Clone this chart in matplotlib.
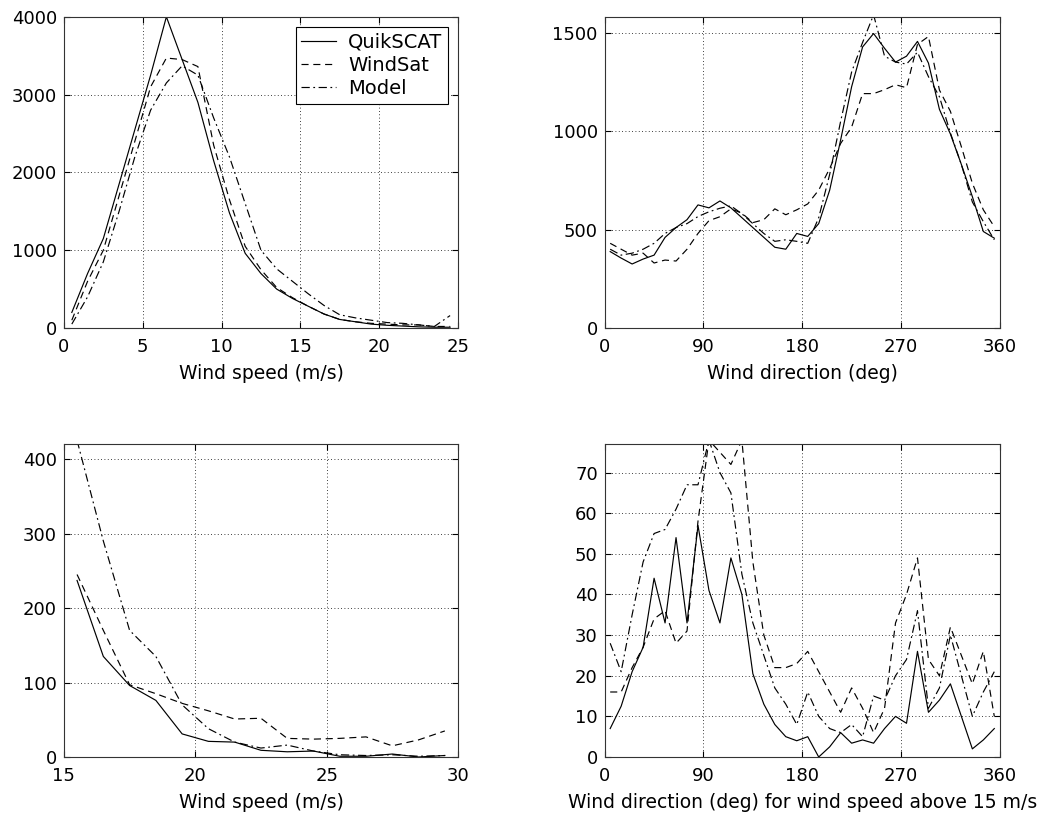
import numpy as np
import matplotlib
matplotlib.use('Agg')
import matplotlib.pyplot as plt

# wind speed histogram (bin centres 0.5 .. 24.5 m/s)
speed = np.arange(0.5, 25, 1.0)
speed_qscat = [200, 700, 1150, 1850, 2550, 3250, 4000, 3450, 2900, 2150, 1480, 960,
               700, 500, 380, 280, 180, 110, 80, 50, 35, 25, 15, 10, 10]
speed_wsat = [100, 600, 1000, 1700, 2400, 3100, 3470, 3450, 3360, 2350, 1650, 1050,
              750, 520, 390, 280, 180, 110, 80, 60, 50, 40, 40, 20, 20]
speed_model = [50, 400, 850, 1500, 2200, 2800, 3150, 3370, 3250, 2700, 2200, 1600,
               1000, 760, 600, 440, 290, 170, 130, 100, 70, 60, 40, 20, 160]

# wind direction histogram (bin centres 5 .. 355 deg)
direc = np.arange(5, 360, 10)
dir_qscat = [388, 355, 325, 350, 370, 460, 510, 550, 625, 610, 645, 610, 560, 510, 460, 410,
             400, 480, 465, 530, 700, 955, 1225, 1427, 1495, 1420, 1350, 1380, 1455, 1345,
             1110, 985, 830, 667, 490, 456]
dir_wsat = [430, 400, 370, 380, 330, 345, 340, 400, 480, 545, 565, 605, 583, 535, 550, 605,
            575, 600, 630, 700, 810, 937, 1020, 1190, 1190, 1210, 1235, 1220, 1440, 1480,
            1208, 1100, 920, 735, 600, 514]
dir_model = [400, 370, 380, 400, 430, 480, 510, 530, 566, 590, 608, 620, 580, 530, 480, 440,
             448, 440, 430, 560, 780, 1050, 1300, 1450, 1590, 1380, 1350, 1340, 1400, 1276,
             1174, 990, 830, 640, 540, 448]

# high wind speed tail (15.5 .. 29.5 m/s)
hi_speed = np.arange(15.5, 30, 1.0)
hi_qscat = [237, 135, 96, 76, 31, 21, 20, 9, 7, 8, 1, 1, 4, 0, 2]
hi_wsat = [245, 170, 97, 85, 72, 62, 51, 52, 25, 24, 25, 27, 15, 23, 35]
hi_model = [425, 290, 170, 135, 70, 38, 20, 12, 16, 8, 3, 2, 3, 1, 2]

# direction for wind speed above 15 m/s
hi_qscat_dir = [7, 12.5, 21, 27, 44, 33, 54, 33, 57, 41, 33, 49, 40, 20.5, 13, 8, 5, 4,
                5, 0, 2.5, 6, 3.4, 4.2, 3.4, 7, 10, 8.3, 26, 11, 14, 18, 10, 2, 4.2, 7]
hi_wsat_dir = [16, 16, 22, 27, 34, 36, 28, 31, 58, 78, 75, 72, 78, 48, 30, 22, 22, 23,
               26, 21, 16, 11, 17, 12, 6, 12, 33, 40, 49, 24, 20, 32, 25, 18, 26, 10]
hi_model_dir = [28, 21, 35, 48, 55, 56, 61, 67, 67, 78, 70, 65, 45, 33, 25, 17, 13, 8,
                16, 10, 7, 6, 8, 5, 15, 14, 20, 24, 36, 12, 17, 30, 20, 10, 16, 21]

plt.rcParams['font.family'] = ['DejaVu Sans']
plt.rcParams['font.size'] = 13

fig = plt.figure(figsize=(10.48, 8.19), dpi=100)
ax1 = fig.add_axes([0.061, 0.5995, 0.376, 0.380])
ax2 = fig.add_axes([0.577, 0.5995, 0.377, 0.380])
ax3 = fig.add_axes([0.061, 0.0757, 0.376, 0.382])
ax4 = fig.add_axes([0.577, 0.0757, 0.377, 0.382])

lw = 0.85
solid = dict(color='black', lw=lw, ls='-')
dash = dict(color='black', lw=lw, ls=(0, (6, 4)))
dashdot = dict(color='black', lw=lw, ls=(0, (7, 3, 1.5, 3)))


def draw(ax, x, a, b, c):
    ax.plot(x, a, label='QuikSCAT', **solid)
    ax.plot(x, b, label='WindSat', **dash)
    ax.plot(x, c, label='Model', **dashdot)


draw(ax1, speed, speed_qscat, speed_wsat, speed_model)
draw(ax2, direc, dir_qscat, dir_wsat, dir_model)
draw(ax3, hi_speed, hi_qscat, hi_wsat, hi_model)
draw(ax4, direc, hi_qscat_dir, hi_wsat_dir, hi_model_dir)

ax1.set_xlim(0, 25)
ax1.set_ylim(0, 4000)
ax1.set_xticks(range(0, 26, 5))
ax1.set_yticks(range(0, 4001, 1000))
ax1.set_xlabel('Wind speed (m/s)', fontsize=13.5)

ax2.set_xlim(0, 360)
ax2.set_ylim(0, 1580)
ax2.set_xticks(range(0, 361, 90))
ax2.set_yticks([0, 500, 1000, 1500])
ax2.set_xlabel('Wind direction (deg)', fontsize=13.5)

ax3.set_xlim(15, 30)
ax3.set_ylim(0, 420)
ax3.set_xticks([15, 20, 25, 30])
ax3.set_yticks(range(0, 401, 100))
ax3.set_xlabel('Wind speed (m/s)', fontsize=13.5)

ax4.set_xlim(0, 360)
ax4.set_ylim(0, 77)
ax4.set_xticks(range(0, 361, 90))
ax4.set_yticks(range(0, 71, 10))
ax4.set_xlabel('Wind direction (deg) for wind speed above 15 m/s', fontsize=13.5)

for ax in (ax1, ax2, ax3, ax4):
    ax.grid(True, color='black', ls=(0, (1, 3)), lw=0.6)
    ax.tick_params(direction='in', top=True, right=True, length=4)
    ax.tick_params(axis='x', pad=7)
    ax.tick_params(axis='y', pad=5)
    ax.xaxis.labelpad = 6
    for s in ax.spines.values():
        s.set_color('#333333')
        s.set_linewidth(0.8)

leg = ax1.legend(loc='upper right', bbox_to_anchor=(0.975, 0.968), fancybox=False,
                 framealpha=1, edgecolor='black', fontsize=14, handlelength=1.8,
                 borderpad=0.3, labelspacing=0.22, handletextpad=0.6, borderaxespad=0)
leg.get_frame().set_linewidth(0.8)

fig.savefig('out.png', dpi=100)
